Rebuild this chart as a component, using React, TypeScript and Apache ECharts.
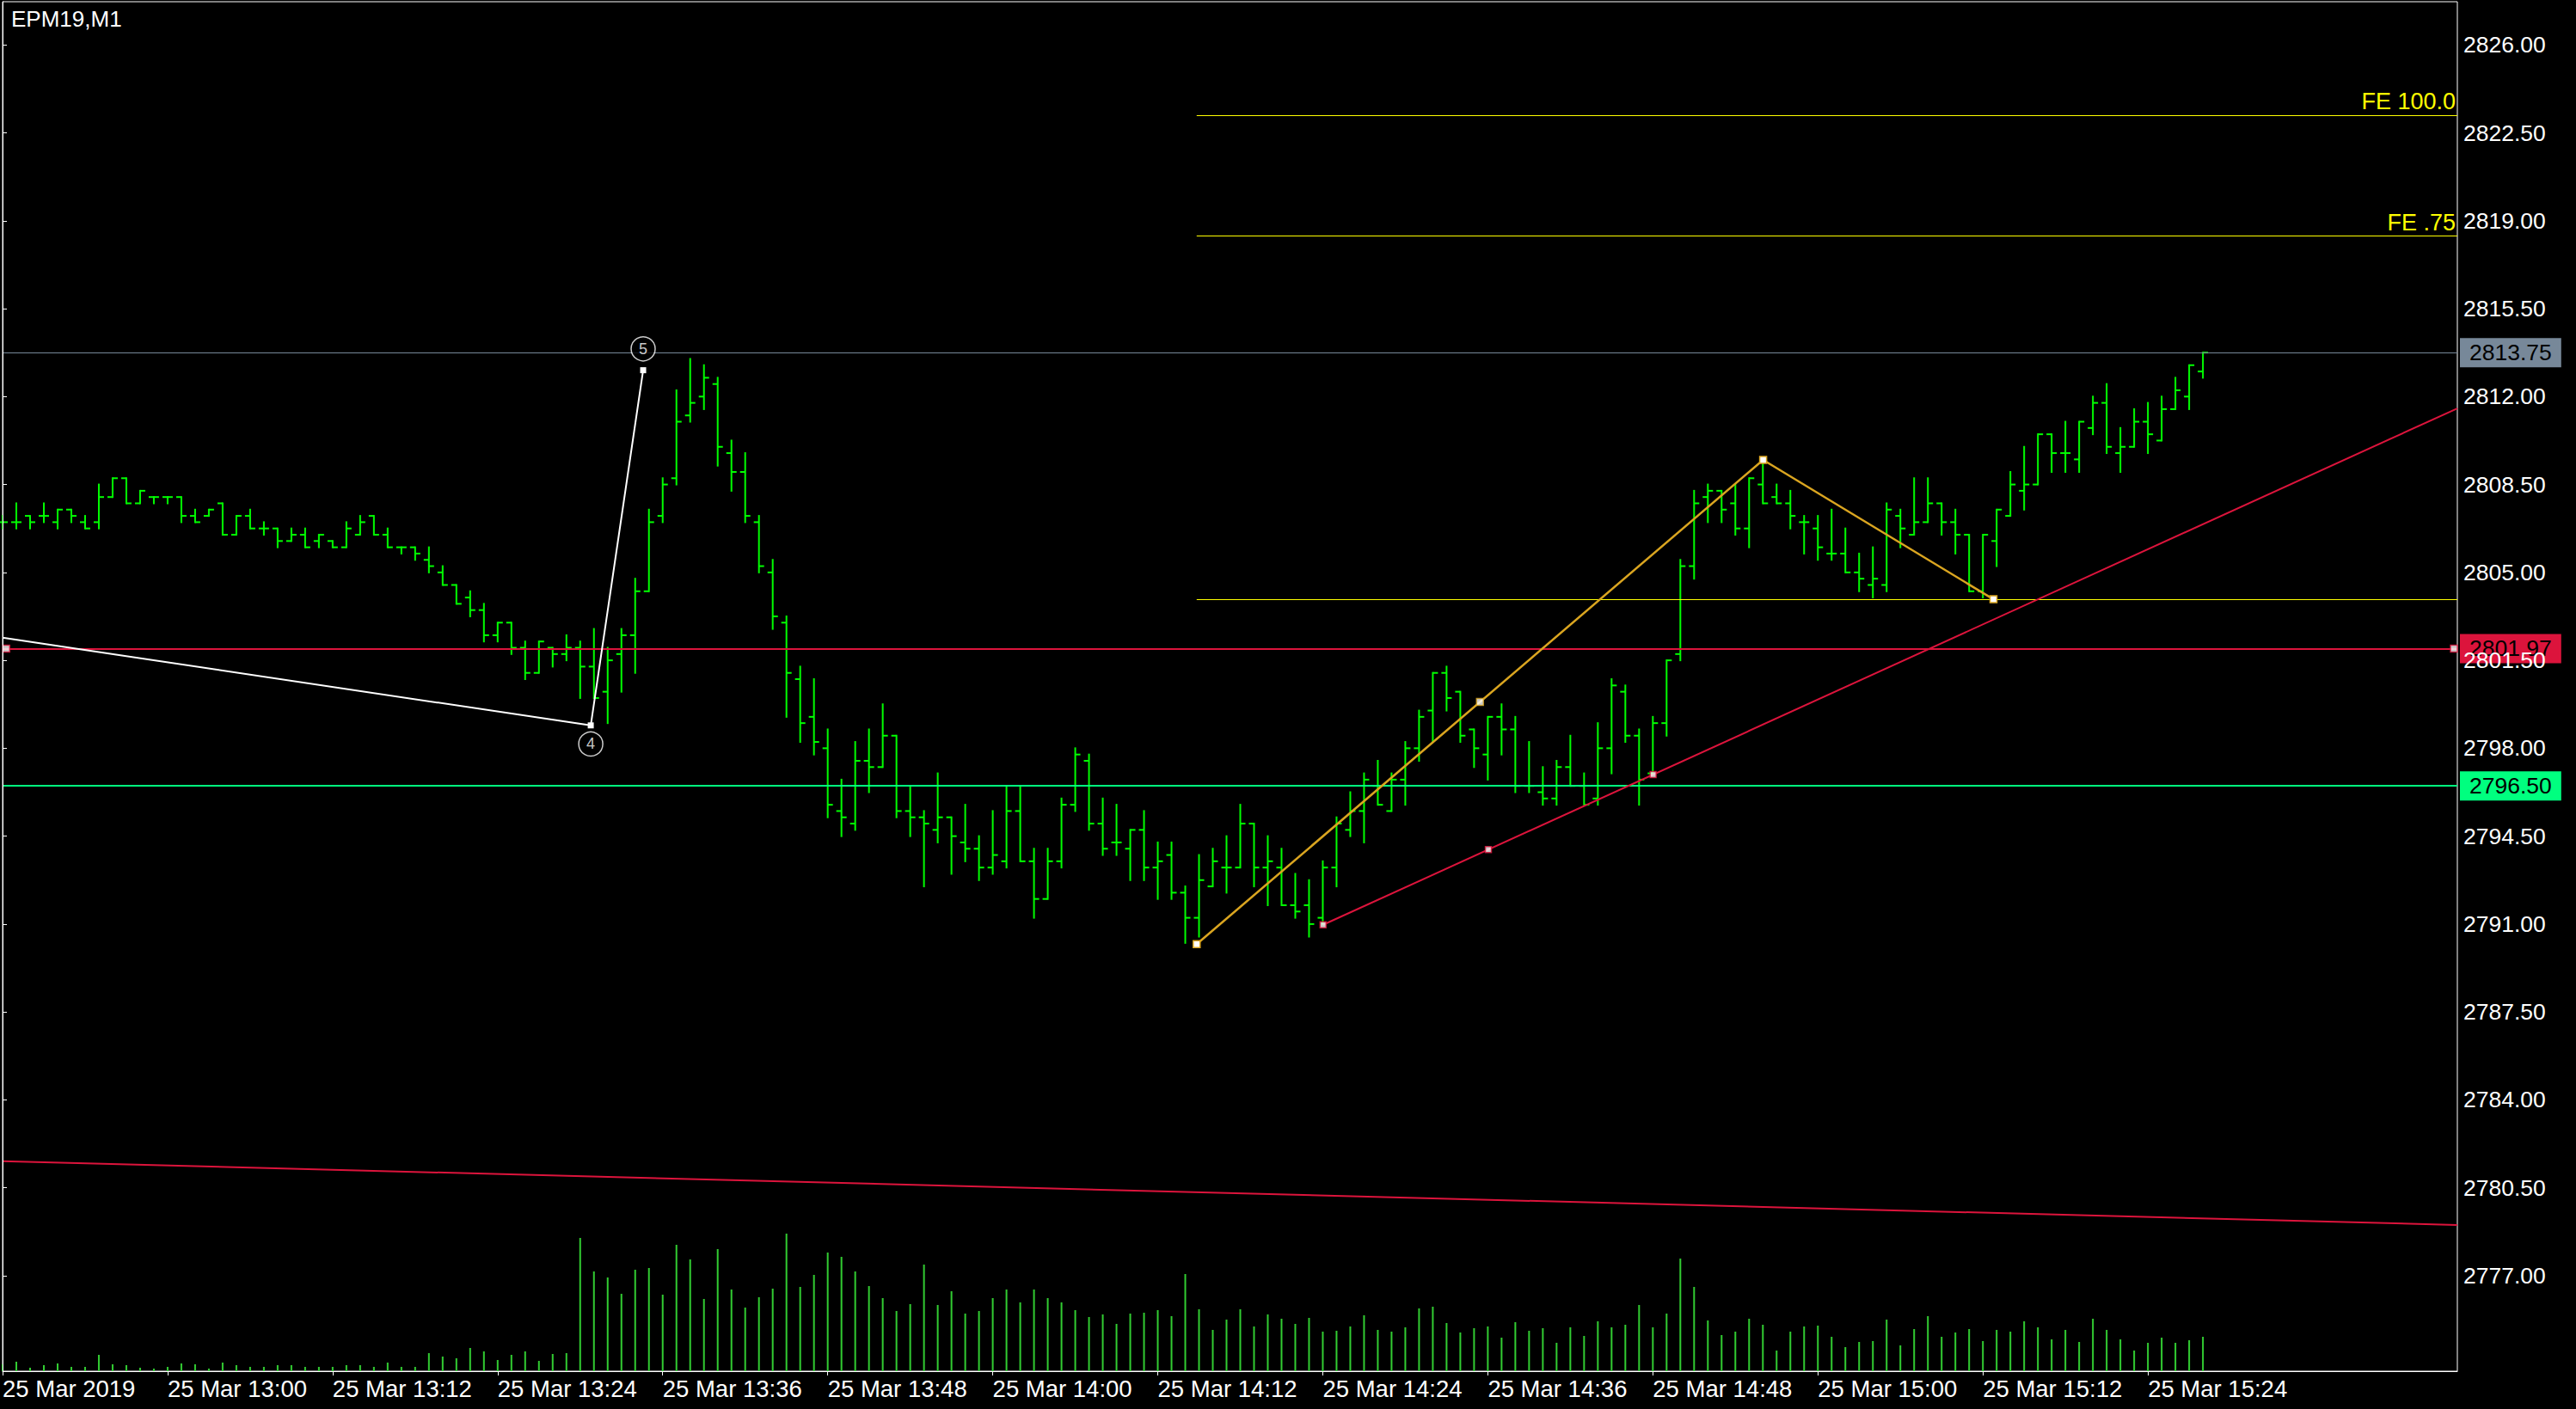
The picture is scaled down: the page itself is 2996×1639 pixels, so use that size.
import React, { useEffect, useRef } from 'react';
import * as echarts from 'echarts';

// ---------- data (1-minute bars from 25 Mar 2019 12:48) ----------
const opens = [
  2807.0, 2807.0, 2807.25, 2807.25, 2807.0, 2807.5, 2807.0, 2807.0, 2808.0, 2808.75,
  2807.75, 2808.0, 2808.0, 2808.0, 2807.25, 2807.25, 2807.75, 2806.5, 2807.25, 2806.75,
  2806.75, 2806.25, 2806.5, 2806.25, 2806.25, 2806.0, 2806.5, 2807.25, 2806.5, 2806.0,
  2806.0, 2805.5, 2805.0, 2804.5, 2804.0, 2803.5, 2802.5, 2803.0, 2802.0, 2801.0,
  2802.0, 2801.75, 2802.0, 2801.25, 2800.25, 2801.75, 2802.5, 2804.25, 2807.25, 2808.75,
  2811.25, 2812.0, 2812.5, 2809.75, 2809.0, 2807.0, 2805.0, 2803.0, 2800.75, 2799.25,
  2798.0, 2795.5, 2795.0, 2797.5, 2797.25, 2798.5, 2795.5, 2795.25, 2794.75, 2795.25,
  2794.25, 2794.0, 2793.25, 2793.5, 2795.5, 2793.5, 2792.0, 2793.5, 2795.75, 2797.5,
  2795.0, 2794.25, 2794.0, 2794.75, 2793.25, 2793.75, 2792.25, 2791.25, 2792.5, 2793.25,
  2793.25, 2795.0, 2793.25, 2793.25, 2791.75, 2791.75, 2791.25, 2793.25, 2794.75, 2795.5,
  2796.5, 2795.5, 2796.75, 2798.0, 2799.5, 2801.0, 2800.25, 2798.75, 2797.75, 2799.25,
  2798.75, 2796.5, 2796.25, 2796.0, 2797.25, 2796.5, 2796.0, 2798.0, 2800.25, 2798.5,
  2797.0, 2799.0, 2801.75, 2805.25, 2808.0, 2808.25, 2807.75, 2806.75, 2808.5, 2808.0,
  2807.75, 2807.0, 2806.75, 2805.75, 2805.75, 2805.0, 2804.5, 2804.5, 2807.25, 2806.5,
  2807.0, 2807.75, 2807.0, 2806.5, 2804.25, 2806.25, 2807.25, 2808.25, 2808.5, 2810.5,
  2809.75, 2809.5, 2810.75, 2811.75, 2809.75, 2810.0, 2811.0, 2810.25, 2811.5, 2812.0,
  2813.0,
];
const highs = [
  2807.25, 2807.75, 2807.25, 2807.75, 2807.5, 2807.5, 2807.25, 2808.5, 2808.75, 2808.75,
  2808.25, 2808.0, 2808.0, 2808.0, 2807.5, 2807.5, 2807.75, 2807.25, 2807.5, 2807.0,
  2806.75, 2806.75, 2806.75, 2806.5, 2806.25, 2807.0, 2807.25, 2807.25, 2806.75, 2806.0,
  2806.0, 2806.0, 2805.25, 2804.5, 2804.25, 2803.75, 2803.0, 2803.0, 2802.25, 2802.25,
  2802.0, 2802.5, 2802.25, 2802.75, 2802.0, 2802.75, 2804.75, 2807.5, 2808.75, 2812.25,
  2813.5, 2813.25, 2812.75, 2810.25, 2809.75, 2807.25, 2805.5, 2803.25, 2801.25, 2800.75,
  2798.75, 2796.75, 2798.25, 2798.75, 2799.75, 2798.5, 2796.5, 2795.5, 2797.0, 2795.25,
  2795.75, 2794.5, 2795.5, 2796.5, 2796.5, 2794.0, 2794.0, 2796.0, 2798.0, 2797.75,
  2796.0, 2795.75, 2794.75, 2795.5, 2794.25, 2794.25, 2792.5, 2793.75, 2794.0, 2794.5,
  2795.75, 2795.0, 2794.5, 2794.0, 2793.0, 2792.75, 2793.5, 2795.25, 2796.25, 2797.0,
  2797.5, 2797.0, 2798.25, 2799.5, 2801.0, 2801.25, 2800.25, 2798.75, 2799.25, 2799.75,
  2799.25, 2798.25, 2797.25, 2797.5, 2798.5, 2797.0, 2799.0, 2800.75, 2800.5, 2798.75,
  2799.25, 2801.5, 2805.5, 2808.25, 2808.5, 2808.25, 2808.5, 2808.75, 2809.5, 2808.5,
  2808.25, 2807.25, 2807.25, 2807.5, 2806.75, 2805.75, 2806.0, 2807.75, 2807.5, 2808.75,
  2808.75, 2807.75, 2807.5, 2806.5, 2806.5, 2807.5, 2809.0, 2810.0, 2810.5, 2810.5,
  2811.0, 2811.0, 2812.0, 2812.5, 2810.75, 2811.5, 2811.75, 2812.0, 2812.75, 2813.25,
  2813.75,
];
const lows = [
  2806.75, 2806.75, 2806.75, 2807.0, 2806.75, 2807.0, 2806.75, 2806.75, 2808.0, 2807.75,
  2807.75, 2807.75, 2807.75, 2807.0, 2807.0, 2807.25, 2806.5, 2806.5, 2806.75, 2806.5,
  2806.0, 2806.25, 2806.0, 2806.0, 2806.0, 2806.0, 2806.5, 2806.5, 2806.0, 2805.75,
  2805.5, 2805.0, 2804.5, 2803.75, 2803.25, 2802.25, 2802.25, 2801.75, 2800.75, 2801.0,
  2801.25, 2801.5, 2800.0, 2800.0, 2799.0, 2800.25, 2801.0, 2804.25, 2807.0, 2808.5,
  2811.0, 2811.5, 2809.25, 2808.25, 2807.0, 2805.0, 2802.75, 2799.25, 2798.25, 2797.75,
  2795.25, 2794.5, 2794.75, 2796.25, 2797.25, 2795.25, 2794.5, 2792.5, 2794.25, 2793.0,
  2793.5, 2792.75, 2793.0, 2793.25, 2793.5, 2791.25, 2792.0, 2793.25, 2795.5, 2794.75,
  2793.75, 2793.75, 2792.75, 2792.75, 2792.0, 2792.0, 2790.25, 2790.5, 2792.5, 2792.25,
  2793.25, 2792.5, 2791.75, 2791.75, 2791.25, 2790.5, 2791.0, 2792.5, 2794.5, 2794.25,
  2795.75, 2795.5, 2795.75, 2797.5, 2798.25, 2799.5, 2798.25, 2797.25, 2796.75, 2797.75,
  2796.25, 2796.25, 2795.75, 2795.75, 2796.5, 2795.75, 2795.75, 2797.0, 2798.25, 2795.75,
  2797.0, 2798.5, 2801.5, 2804.75, 2807.0, 2807.0, 2806.5, 2806.0, 2807.75, 2807.75,
  2806.75, 2805.75, 2805.5, 2805.5, 2805.0, 2804.25, 2804.0, 2804.25, 2806.0, 2806.5,
  2807.0, 2806.5, 2805.75, 2804.25, 2804.0, 2805.25, 2807.25, 2807.5, 2808.5, 2809.0,
  2809.0, 2809.0, 2810.5, 2809.75, 2809.0, 2810.0, 2809.75, 2810.25, 2811.5, 2811.5,
  2812.75,
];
const closes = [
  2807.0, 2807.0, 2807.0, 2807.25, 2807.5, 2807.25, 2806.75, 2808.0, 2808.75, 2807.75,
  2808.25, 2808.0, 2808.0, 2807.25, 2807.0, 2807.5, 2806.5, 2807.25, 2806.75, 2806.75,
  2806.25, 2806.5, 2806.0, 2806.5, 2806.0, 2806.75, 2807.0, 2806.5, 2806.0, 2806.0,
  2805.75, 2805.25, 2804.5, 2803.75, 2803.5, 2802.5, 2803.0, 2802.0, 2801.0, 2802.25,
  2801.75, 2802.0, 2801.25, 2800.0, 2801.5, 2802.5, 2804.25, 2807.0, 2808.5, 2811.0,
  2811.75, 2812.75, 2810.0, 2809.0, 2807.25, 2805.25, 2803.25, 2801.0, 2799.0, 2798.25,
  2795.75, 2795.25, 2797.5, 2797.25, 2798.5, 2795.5, 2795.25, 2795.0, 2795.25, 2794.5,
  2794.0, 2793.25, 2793.75, 2795.5, 2793.5, 2792.0, 2793.5, 2795.75, 2797.75, 2795.0,
  2794.0, 2794.25, 2794.75, 2793.25, 2793.5, 2792.25, 2791.25, 2792.75, 2793.5, 2793.25,
  2795.0, 2793.25, 2793.5, 2791.75, 2791.5, 2791.0, 2793.25, 2795.0, 2795.5, 2796.75,
  2795.75, 2796.75, 2798.0, 2799.25, 2801.0, 2800.0, 2798.5, 2798.0, 2799.25, 2798.75,
  2796.5, 2796.5, 2796.0, 2797.25, 2796.5, 2795.75, 2798.0, 2800.5, 2798.5, 2796.75,
  2799.0, 2801.5, 2805.25, 2807.75, 2808.25, 2807.5, 2806.75, 2808.75, 2807.75, 2807.75,
  2807.25, 2807.0, 2806.0, 2805.75, 2805.0, 2804.75, 2804.75, 2807.5, 2806.75, 2807.0,
  2807.75, 2807.0, 2806.5, 2804.25, 2806.5, 2807.5, 2808.5, 2808.5, 2810.5, 2809.75,
  2809.75, 2811.0, 2811.75, 2810.0, 2810.0, 2811.0, 2810.5, 2811.5, 2812.25, 2813.25,
  2813.75,
];
const volumes = [
  8, 11, 4, 7, 9, 5, 5, 19, 8, 7, 4, 3, 5, 9, 8, 3, 10, 7, 5, 5,
  7, 7, 5, 5, 5, 7, 7, 5, 10, 5, 5, 21, 17, 15, 27, 23, 13, 19, 23, 12,
  20, 21, 155, 116, 109, 90, 118, 120, 89, 147, 130, 84, 142, 95, 74, 86, 96, 160, 98, 112,
  138, 133, 116, 99, 85, 70, 78, 124, 77, 93, 67, 70, 85, 95, 80, 95, 85, 80, 71, 63,
  66, 55, 67, 68, 71, 64, 113, 72, 48, 60, 72, 52, 66, 61, 55, 62, 46, 47, 52, 65,
  48, 46, 51, 73, 75, 56, 45, 50, 52, 39, 57, 47, 50, 33, 51, 41, 58, 51, 54, 77,
  51, 67, 131, 98, 59, 42, 46, 61, 54, 24, 46, 52, 53, 40, 28, 34, 35, 60, 30, 49,
  64, 40, 45, 49, 35, 48, 46, 58, 51, 37, 48, 34, 61, 48, 37, 24, 33, 39, 33, 36,
  40,
];

// time axis: minutes after 12:48
const tickMinutes = [0, 12, 24, 36, 48, 60, 72, 84, 96, 108, 120, 132, 144, 156];
const tickLabels = [
  '25 Mar 2019', '25 Mar 13:00', '25 Mar 13:12', '25 Mar 13:24', '25 Mar 13:36',
  '25 Mar 13:48', '25 Mar 14:00', '25 Mar 14:12', '25 Mar 14:24', '25 Mar 14:36',
  '25 Mar 14:48', '25 Mar 15:00', '25 Mar 15:12', '25 Mar 15:24',
];
const priceTicks = [2777, 2780.5, 2784, 2787.5, 2791, 2794.5, 2798, 2801.5, 2805, 2808.5, 2812, 2815.5, 2819, 2822.5, 2826];

// horizontal levels
const lastPrice = 2813.75;
const redLevel = 2801.97;
const greenLevel = 2796.5;

// drawn objects (minute, price)
const waveLine = [[0, 2802.4], [42.77, 2798.91], [46.58, 2813.05]];
const waveMarks = [[42.77, 2798.17, '4'], [46.58, 2813.9, '5']];
const abcLine = [[86.83, 2790.2], [128.02, 2809.48], [144.77, 2803.93]];
const abcMid = [[107.43, 2799.84]];
const feLevels = [2823.21, 2818.39, 2803.93];
const feNames = ['FE 100.0', 'FE .75', ''];
const upTrend = [[96.02, 2790.97], [178.5, 2811.53]];
const upTrendMarks = [[96.02, 2790.97], [108.04, 2793.97], [120.02, 2796.95]];
const lowTrend = [[0, 2781.56], [178.5, 2779.02]];
const redLevelMarks = [[0.27, redLevel], [178.25, redLevel]];

const X_MAX = 178.5;
const Y_MIN = 2773.2;
const Y_MAX = 2827.72;
const VOL_MAX = 1593;

const FONT = "'Liberation Sans', Arial, sans-serif";

export default function App() {
  const ref = useRef<HTMLDivElement>(null);
  useEffect(() => {
    document.body.style.margin = '0';
    document.body.style.background = '#000';
    const chart = echarts.init(ref.current!, null, { renderer: 'svg' });
    const minutes = closes.map((_, i) => i);
    const ohlc = minutes.map((m, i) => [m, opens[i], highs[i], lows[i], closes[i]]);
    const vol = minutes.map((m, i) => [m, volumes[i]]);

    const renderOHLC = (params: any, api: any) => {
      const x = api.value(0);
      const o = api.coord([x, api.value(1)]);
      const h = api.coord([x, api.value(2)]);
      const l = api.coord([x, api.value(3)]);
      const c = api.coord([x, api.value(4)]);
      const style = { stroke: '#00FF00', lineWidth: 2 };
      return {
        type: 'group',
        children: [
          { type: 'line', shape: { x1: h[0], y1: h[1] - 1, x2: l[0], y2: l[1] + 1 }, style },
          { type: 'line', shape: { x1: o[0] - 6, y1: o[1], x2: o[0], y2: o[1] }, style },
          { type: 'line', shape: { x1: c[0], y1: c[1], x2: c[0] + 6, y2: c[1] }, style },
        ],
      };
    };

    const boxLabel = (bg: string) => ({
      show: true,
      position: 'end',
      distance: 3,
      formatter: (p: any) => Number(p.value).toFixed(2),
      backgroundColor: bg,
      color: '#000',
      fontFamily: FONT,
      fontSize: 26.5,
      lineHeight: 30,
      padding: [2, 11, 2, 11],
    });

    const option: any = {
      animation: false,
      backgroundColor: '#000',
      title: {
        text: 'EPM19,M1',
        left: 8,
        top: 4,
        textStyle: { color: '#fff', fontSize: 26, fontWeight: 'normal', fontFamily: FONT },
      },
      grid: { left: 2, top: 2, right: 138, bottom: 44, show: true, borderColor: '#fff', borderWidth: 1, containLabel: false },
      xAxis: {
        type: 'value',
        min: 0,
        max: X_MAX,
        axisLine: { show: true, lineStyle: { color: '#fff', width: 1 } },
        axisTick: { show: true, customValues: tickMinutes, length: 5, lineStyle: { color: '#fff' } },
        axisLabel: {
          show: true,
          customValues: tickMinutes,
          formatter: (v: number) => tickLabels[tickMinutes.indexOf(v)] ?? '',
          align: 'left',
          color: '#fff',
          fontFamily: FONT,
          fontSize: 27.5,
          margin: 6,
        },
        splitLine: { show: false },
      },
      yAxis: [
        {
          type: 'value',
          position: 'right',
          min: Y_MIN,
          max: Y_MAX,
          z: 10,
          axisLine: { show: true, lineStyle: { color: '#fff', width: 1 } },
          axisTick: { show: true, customValues: priceTicks, length: 5, lineStyle: { color: '#fff' } },
          axisLabel: {
            show: true,
            customValues: priceTicks,
            formatter: (v: number) => v.toFixed(2),
            color: '#fff',
            fontFamily: FONT,
            fontSize: 26.5,
            margin: 7,
          },
          splitLine: { show: false },
        },
        { type: 'value', min: 0, max: VOL_MAX, show: false },
      ],
      series: [
        {
          type: 'bar',
          yAxisIndex: 1,
          data: vol,
          barWidth: 2,
          itemStyle: { color: '#32CD32' },
          silent: true,
          z: 1,
        },
        {
          type: 'custom',
          renderItem: renderOHLC,
          data: ohlc,
          encode: { x: 0, y: [1, 2, 3, 4] },
          z: 3,
          silent: true,
        },
        {
          type: 'line',
          data: lowTrend,
          symbol: 'none',
          lineStyle: { color: '#DC143C', width: 2 },
          silent: true,
          z: 4,
          markLine: {
            silent: true,
            symbol: ['none', 'none'],
            animation: false,
            data: [
              { yAxis: lastPrice, lineStyle: { color: '#778899', width: 1, type: 'solid' }, label: boxLabel('#778899') },
              { yAxis: redLevel, lineStyle: { color: '#DC143C', width: 2, type: 'solid' }, label: boxLabel('#DC143C') },
              { yAxis: greenLevel, lineStyle: { color: '#00FF7F', width: 2, type: 'solid' }, label: boxLabel('#00FF7F') },
              ...feLevels.map((lv, i) => [
                {
                  coord: [abcLine[0][0], lv],
                  lineStyle: { color: '#FFFF00', width: 1, type: 'solid' },
                  label: {
                    show: feNames[i] !== '',
                    position: 'insideEndTop',
                    formatter: feNames[i],
                    color: '#FFFF00',
                    fontFamily: FONT,
                    fontSize: 27,
                    distance: 2,
                  },
                },
                { coord: [X_MAX, lv] },
              ]),
            ],
          },
        },
        {
          type: 'line',
          data: upTrend,
          symbol: 'none',
          lineStyle: { color: '#DC143C', width: 2 },
          silent: true,
          z: 5,
        },
        {
          type: 'scatter',
          data: upTrendMarks,
          symbol: 'rect',
          symbolSize: 7,
          itemStyle: { color: '#fff', borderColor: '#DC143C', borderWidth: 1.5 },
          silent: true,
          z: 6,
        },
        {
          type: 'scatter',
          data: redLevelMarks,
          symbol: 'rect',
          symbolSize: 8,
          itemStyle: { color: '#fff', borderColor: '#DC143C', borderWidth: 1.5 },
          silent: true,
          z: 6,
        },
        {
          type: 'line',
          data: abcLine,
          symbol: 'rect',
          symbolSize: 8,
          showAllSymbol: true,
          itemStyle: { color: '#fff', borderColor: '#DAA520', borderWidth: 1.5 },
          lineStyle: { color: '#DAA520', width: 2.5 },
          silent: true,
          z: 6,
        },
        {
          type: 'scatter',
          data: abcMid,
          symbol: 'rect',
          symbolSize: 8,
          itemStyle: { color: '#fff', borderColor: '#DAA520', borderWidth: 1.5 },
          silent: true,
          z: 7,
        },
        {
          type: 'line',
          data: waveLine.map((d, i) => (i === 0 ? { value: d, symbol: 'none' } : { value: d })),
          symbol: 'rect',
          symbolSize: 7,
          showAllSymbol: true,
          itemStyle: { color: '#fff' },
          lineStyle: { color: '#fff', width: 2 },
          silent: true,
          z: 6,
        },
        {
          type: 'scatter',
          data: waveMarks.map((d) => ({ value: [d[0], d[1]], name: d[2] })),
          symbol: 'circle',
          symbolSize: 28,
          itemStyle: { color: '#000', borderColor: '#fff', borderWidth: 1.5 },
          label: {
            show: true,
            position: 'inside',
            formatter: (p: any) => p.name,
            color: '#fff',
            fontFamily: FONT,
            fontSize: 18,
          },
          silent: true,
          z: 8,
        },
      ],
    };
    chart.setOption(option);
    return () => chart.dispose();
  }, []);
  return <div ref={ref} style={{ position: 'fixed', left: 0, top: 0, width: 2996, height: 1639, background: '#000' }} />;
}
